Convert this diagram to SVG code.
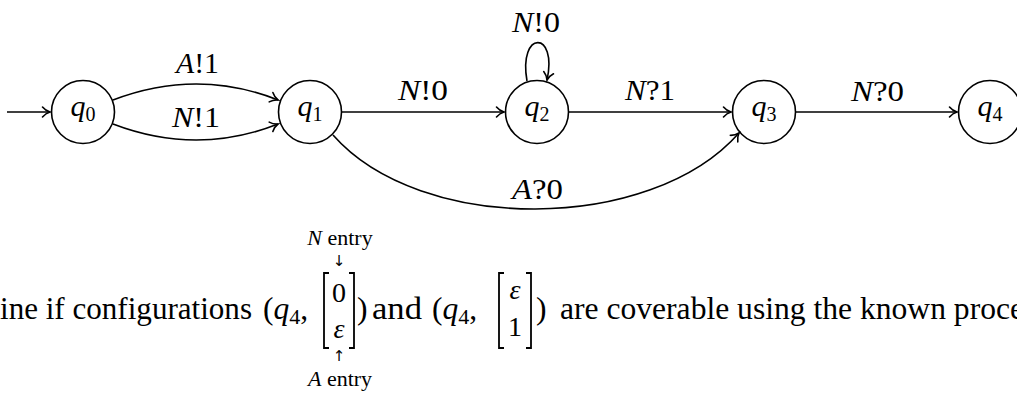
<svg xmlns="http://www.w3.org/2000/svg" width="1017" height="394" viewBox="0 0 1017 394">
<style>
.node circle{fill:none;stroke:#000;stroke-width:1.6}
.lbl{font-family:"Liberation Serif","DejaVu Serif",serif;font-size:30px;fill:#000}
.it{font-style:italic}
.edge{fill:none;stroke:#000;stroke-width:1.6}
.txt{font-family:"Liberation Serif","DejaVu Serif",serif;font-size:31.5px;fill:#000}
.mx{font-family:"Liberation Serif","DejaVu Serif",serif;font-size:28px;fill:#000}
.sm{font-family:"Liberation Serif","DejaVu Serif",serif;font-size:22px;fill:#000}
.ar{font-family:"DejaVu Sans",sans-serif;font-size:15px;fill:#000}
.br{fill:none;stroke:#000;stroke-width:1.8}
</style>
<defs>
<marker id="arr" markerUnits="userSpaceOnUse" markerWidth="14" markerHeight="14" viewBox="-9 -7 11 14" refX="0" refY="0" orient="auto">
<path d="M-7.5,-5 C-5,-2 -2,-0.6 0,0 C-2,0.6 -5,2 -7.5,5" fill="none" stroke="#000" stroke-width="1.6" stroke-linecap="round"/>
</marker>
</defs>
<rect width="1017" height="394" fill="#fff"/>
<g id="connectors">
<path class="edge" d="M7,112 L50,112" marker-end="url(#arr)"/>
<path class="edge" d="M113,100 Q197,68 278,100" marker-end="url(#arr)"/>
<path class="edge" d="M113,124 Q197,156 278,124" marker-end="url(#arr)"/>
<path class="edge" d="M342,112 L504,112" marker-end="url(#arr)"/>
<path class="edge" d="M527,81 C518,30 558,30 547,80" marker-end="url(#arr)"/>
<path class="edge" d="M569,112 L731,112" marker-end="url(#arr)"/>
<path class="edge" d="M796,112 L957,112" marker-end="url(#arr)"/>
<path class="edge" d="M333,135 C420,234 650,234 739,133" marker-end="url(#arr)"/>
<text class="lbl" x="176" y="73" textLength="43" lengthAdjust="spacingAndGlyphs"><tspan class="it">A</tspan>!1</text>
<text class="lbl" x="172" y="127" textLength="48" lengthAdjust="spacingAndGlyphs"><tspan class="it">N</tspan>!1</text>
<text class="lbl" x="398" y="100" textLength="50" lengthAdjust="spacingAndGlyphs"><tspan class="it">N</tspan>!0</text>
<text class="lbl" x="512" y="32" textLength="48" lengthAdjust="spacingAndGlyphs"><tspan class="it">N</tspan>!0</text>
<text class="lbl" x="625" y="100" textLength="50" lengthAdjust="spacingAndGlyphs"><tspan class="it">N</tspan>?1</text>
<text class="lbl" x="851" y="101" textLength="53" lengthAdjust="spacingAndGlyphs"><tspan class="it">N</tspan>?0</text>
<text class="lbl" x="512" y="199" textLength="51" lengthAdjust="spacingAndGlyphs"><tspan class="it">A</tspan>?0</text>
</g>
<g id="q0" class="node"><circle cx="83" cy="112" r="31.5"/><text class="lbl" x="83" y="116" text-anchor="middle"><tspan class="it">q</tspan><tspan font-size="20" dy="5">0</tspan></text></g>
<g id="q1" class="node"><circle cx="310" cy="112" r="31.5"/><text class="lbl" x="310" y="116" text-anchor="middle"><tspan class="it">q</tspan><tspan font-size="20" dy="5">1</tspan></text></g>
<g id="q2" class="node"><circle cx="537" cy="112" r="31.5"/><text class="lbl" x="537" y="116" text-anchor="middle"><tspan class="it">q</tspan><tspan font-size="20" dy="5">2</tspan></text></g>
<g id="q3" class="node"><circle cx="764" cy="112" r="31.5"/><text class="lbl" x="764" y="116" text-anchor="middle"><tspan class="it">q</tspan><tspan font-size="20" dy="5">3</tspan></text></g>
<g id="q4" class="node"><circle cx="990" cy="112" r="31.5"/><text class="lbl" x="990" y="116" text-anchor="middle"><tspan class="it">q</tspan><tspan font-size="20" dy="5">4</tspan></text></g>
<g id="caption">
<text class="txt" x="0" y="319" textLength="252" lengthAdjust="spacingAndGlyphs">ine if configurations</text>
<text class="txt" x="263" y="319">(<tspan class="it">q</tspan><tspan font-size="22" dy="5">4</tspan><tspan dy="-5">,</tspan></text>
<path class="br" d="M329,273 L324,273 L324,348 L329,348"/>
<path class="br" d="M349,273 L354,273 L354,348 L349,348"/>
<text class="mx" x="339" y="302" text-anchor="middle">0</text>
<text class="mx it" x="339" y="338" text-anchor="middle">ε</text>
<text class="txt" x="357" y="319">)</text>
<text class="txt" x="372" y="319" textLength="50" lengthAdjust="spacingAndGlyphs">and</text>
<text class="txt" x="432" y="319">(<tspan class="it">q</tspan><tspan font-size="22" dy="5">4</tspan><tspan dy="-5">,</tspan></text>
<path class="br" d="M504,273 L499,273 L499,348 L504,348"/>
<path class="br" d="M526,273 L531,273 L531,348 L526,348"/>
<text class="mx it" x="515" y="299" text-anchor="middle">ε</text>
<text class="mx" x="515" y="336" text-anchor="middle">1</text>
<text class="txt" x="536" y="319">)</text>
<text class="txt" x="560" y="319" textLength="464" lengthAdjust="spacingAndGlyphs">are coverable using the known proce</text>
<text class="sm" x="340" y="245" text-anchor="middle"><tspan class="it">N</tspan> entry</text>
<text class="ar" x="339" y="266" text-anchor="middle">↓</text>
<text class="ar" x="339" y="361" text-anchor="middle">↑</text>
<text class="sm" x="340" y="386" text-anchor="middle"><tspan class="it">A</tspan> entry</text>
</g>
</svg>
